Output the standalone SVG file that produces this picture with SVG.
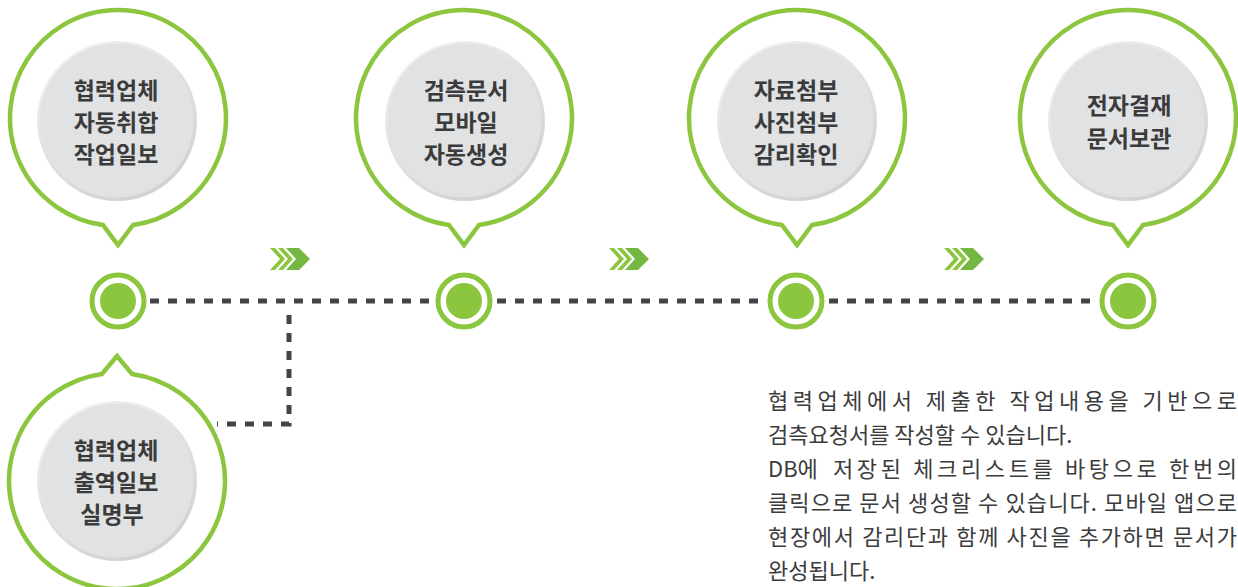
<svg xmlns="http://www.w3.org/2000/svg" width="1238" height="587" viewBox="0 0 1238 587">
<defs>
<linearGradient id="bevel" x1="0" y1="0" x2="0.6" y2="1">
<stop offset="0" stop-color="#f4f4f5"/>
<stop offset="1" stop-color="#d2d2d4"/>
</linearGradient>
<g id="chev">
<polygon class="chl" points="0,0 5,0 15,11 5,22 0,22 10,11"/>
<polygon class="chl" points="8,0 13,0 23,11 13,22 8,22 18,11"/>
<polygon class="chd" points="16,0 29,0 40,11 29,22 16,22 26,11"/>
</g>
</defs>
<style>
.bubble{fill:#fff;stroke:#8cc63f;stroke-width:4.5;stroke-linejoin:miter}
.bev{fill:url(#bevel)}
.inner{fill:#e1e2e4}
.label{font-family:"Noto Sans CJK KR","Noto Sans CJK SC",sans-serif;font-weight:700;font-size:23px;fill:#3b3b3b;text-anchor:middle}
.dotring{fill:#fff;stroke:#8cc63f;stroke-width:5}
.dot{fill:#8cc63f}
.dash{fill:none;stroke:#444;stroke-width:5;stroke-dasharray:9 9}
.chl{fill:#8cc63f}
.chd{fill:#74b843}
.para{font-family:"Noto Sans CJK KR","Noto Sans CJK SC",sans-serif;font-weight:400;font-size:22px;fill:#3c3c3c}
</style>
<rect width="1238" height="587" fill="#fff"/>
<g id="connectors">
<line class="dash" x1="150" y1="301" x2="434" y2="301"/>
<line class="dash" x1="497" y1="301" x2="766" y2="301"/>
<line class="dash" x1="829" y1="301" x2="1098" y2="301"/>
<path class="dash" d="M289,315 V424 H217"/>
<use href="#chev" x="270" y="248"/>
<use href="#chev" x="609" y="248"/>
<use href="#chev" x="944" y="248"/>
</g>
<g id="node1">
<path class="bubble" d="M103,225 A108,108 0 1 1 133,225 L118,245 Z"/>
<circle class="bev" cx="117" cy="121" r="80"/>
<circle class="inner" cx="116.5" cy="120.5" r="77"/>
<text class="label" x="116" y="99">협력업체</text>
<text class="label" x="116" y="131">자동취합</text>
<text class="label" x="116" y="163">작업일보</text>
</g>
<g id="node2">
<path class="bubble" d="M449,225 A108,108 0 1 1 479,225 L464,245 Z"/>
<circle class="bev" cx="465" cy="121" r="80"/>
<circle class="inner" cx="464.5" cy="120.5" r="77"/>
<text class="label" x="466" y="99">검측문서</text>
<text class="label" x="466" y="131">모바일</text>
<text class="label" x="466" y="163">자동생성</text>
</g>
<g id="node3">
<path class="bubble" d="M782,225 A108,108 0 1 1 812,225 L797,245 Z"/>
<circle class="bev" cx="797" cy="121" r="80"/>
<circle class="inner" cx="796.5" cy="120.5" r="77"/>
<text class="label" x="796" y="99">자료첨부</text>
<text class="label" x="796" y="131">사진첨부</text>
<text class="label" x="796" y="163">감리확인</text>
</g>
<g id="node4">
<path class="bubble" d="M1113,225 A108,108 0 1 1 1143,225 L1128,245 Z"/>
<circle class="bev" cx="1128" cy="121" r="80"/>
<circle class="inner" cx="1127.5" cy="120.5" r="77"/>
<text class="label" x="1129" y="114">전자결재</text>
<text class="label" x="1129" y="147">문서보관</text>
</g>
<g id="node5">
<path class="bubble" d="M102,374 A108,108 0 1 0 132,374 L117,356 Z"/>
<circle class="bev" cx="117" cy="481" r="80"/>
<circle class="inner" cx="116.5" cy="480.5" r="77"/>
<text class="label" x="116" y="459">협력업체</text>
<text class="label" x="116" y="491">출역일보</text>
<text class="label" x="112" y="523">실명부</text>
</g>
<g id="dot1"><circle class="dotring" cx="118" cy="301" r="26"/><circle class="dot" cx="118" cy="301" r="18"/></g>
<g id="dot2"><circle class="dotring" cx="464" cy="301" r="26"/><circle class="dot" cx="464" cy="301" r="18"/></g>
<g id="dot3"><circle class="dotring" cx="796" cy="301" r="26"/><circle class="dot" cx="796" cy="301" r="18"/></g>
<g id="dot4"><circle class="dotring" cx="1128" cy="301" r="26"/><circle class="dot" cx="1128" cy="301" r="18"/></g>
<g id="description">
<text class="para" x="768" y="409" textLength="469" lengthAdjust="spacing">협력업체에서 제출한 작업내용을 기반으로</text>
<text class="para" x="768" y="443">검측요청서를 작성할 수 있습니다.</text>
<text class="para" x="768" y="477">DB에</text>
<text class="para" x="833" y="477" textLength="404" lengthAdjust="spacing">저장된 체크리스트를 바탕으로 한번의</text>
<text class="para" x="768" y="511" textLength="469" lengthAdjust="spacing">클릭으로 문서 생성할 수 있습니다. 모바일 앱으로</text>
<text class="para" x="768" y="545" textLength="469" lengthAdjust="spacing">현장에서 감리단과 함께 사진을 추가하면 문서가</text>
<text class="para" x="768" y="579">완성됩니다.</text>
</g>
</svg>
